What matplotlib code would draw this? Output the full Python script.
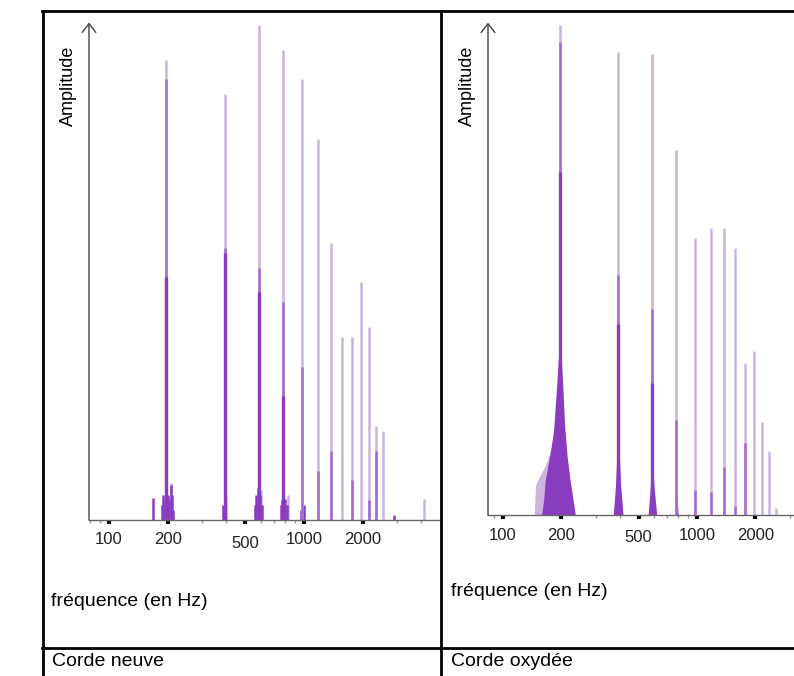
import numpy as np
import matplotlib.pyplot as plt
import matplotlib.transforms as mtransforms
from matplotlib.lines import Line2D
from matplotlib.ticker import LogLocator, NullFormatter

plt.rcParams['font.family'] = ['Liberation Sans', 'DejaVu Sans']

# harmoniques (Hz)
harmonics = [196, 392, 588, 784, 980, 1176, 1372, 1568, 1764, 1960, 2156, 2352, 2548]

# corde neuve : amplitude en % de la hauteur de l'axe
neuve_light = [93, 86, 100, 95, 89, 77, 56, 37, 37, 48, 39, 19, 18]
neuve_dark = [89, 55, 51, 44, 31, 10, 14, 0, 8, 0, 4, 14, 0]
neuve_core = [49, 54, 46, 25, 0, 0, 0, 0, 0, 0, 0, 0, 0]
neuve_lobe_f = [168, 186, 190, 193, 200, 204, 207, 210, 213, 385, 560, 570, 578, 598, 612,
                760, 775, 800, 820, 960, 1000, 2900]
neuve_lobe_a = [4.4, 3, 5, 4, 5, 4, 7, 5, 2, 3, 3, 5, 6.5, 5, 3,
                3, 4, 4.2, 3, 2, 3, 1]
neuve_halo_f = [209, 400, 605, 830, 4100]
neuve_halo_a = [7.5, 4.6, 6, 5, 4.2]

# corde oxydee
oxy_light = [100, 94.5, 94, 74.5, 56.5, 58.6, 58.6, 54.5, 31, 33.5, 19, 13, 1.4]
oxy_dark = [96.5, 49, 42, 19.4, 5.1, 4.7, 9.8, 1.8, 14.7, 0, 0, 0, 0]
oxy_core = [70, 39, 27, 0, 0, 0, 0, 0, 0, 0, 0, 0, 0]
oxy_env_f = [158, 162, 165, 174, 182, 188, 193, 196, 199, 203, 208, 214, 222, 230, 236,
             370, 380, 388, 392, 396, 404, 416,
             560, 575, 588, 600, 620,
             770, 787, 800]
oxy_env_a = [0, 3, 7, 12, 17, 25, 32, 36, 33, 27, 18, 12, 7, 3, 0,
             0, 6, 14, 20, 14, 6, 0,
             0, 6, 12, 6, 0,
             0, 4, 0]
oxy_halo_f = [145, 147, 155, 165, 172, 180, 186, 190]
oxy_halo_a = [0, 6, 8, 10, 12, 14, 20, 0]

tick_vals = [100, 200, 500, 1000, 2000]
tick_labels = ['100', '200', '500', '1000', '2000']

LIGHT = '#cbb4de'
MID = '#a468d2'
DARK = '#8a3cc0'

W, H = 794, 676
fig = plt.figure(figsize=(W / 100, H / 100), dpi=100)


def px_axes(x0, x1, ytop, ybot):
    return fig.add_axes([x0 / W, 1 - ybot / H, (x1 - x0) / W, (ybot - ytop) / H])


def draw_panel(ax, xlim, light, dark, core):
    ax.vlines(harmonics, 0, light, color=LIGHT, lw=1.8)
    ax.vlines(harmonics, 0, dark, color=MID, lw=1.8)
    ax.vlines(harmonics, 0, core, color=DARK, lw=2.4)
    ax.set_xscale('log')
    ax.set_xlim(*xlim)
    ax.set_ylim(0, 100)
    for s in ['top', 'right', 'left']:
        ax.spines[s].set_visible(False)
    ax.spines['bottom'].set_color('#666666')
    ax.spines['bottom'].set_linewidth(1.0)
    ax.set_yticks([])
    ax.set_xticks(tick_vals)
    ax.set_xticklabels(tick_labels)
    ax.xaxis.set_minor_locator(LogLocator(base=10, subs=np.arange(2, 10) * 1.0))
    ax.xaxis.set_minor_formatter(NullFormatter())
    ax.tick_params(axis='x', which='major', direction='out', length=3, width=3,
                   color='black', labelsize=12, labelcolor='#222222', pad=6)
    ax.tick_params(axis='x', which='minor', direction='out', length=2, width=1,
                   color='#999999')
    for lab in ax.get_xticklabels():
        if lab.get_text() == '500':
            lab.set_transform(lab.get_transform() +
                              mtransforms.ScaledTranslation(0, -3 / 100, fig.dpi_scale_trans))
    ax.annotate('', xy=(0, 1.005), xytext=(0, 0), xycoords='axes fraction',
                arrowprops=dict(arrowstyle='->,head_length=0.45,head_width=0.35',
                                color='#444444', lw=1.0, mutation_scale=14,
                                shrinkA=0, shrinkB=0),
                annotation_clip=False)
    for c in ax.collections:
        c.set_clip_on(False)


# corde neuve
ax1 = px_axes(89, 440, 25, 520)
ax1.vlines(neuve_halo_f, 0, neuve_halo_a, color=LIGHT, lw=1.8)
ax1.vlines(neuve_lobe_f, 0, neuve_lobe_a, color=DARK, lw=1.8)
draw_panel(ax1, (79, 4977), neuve_light, neuve_dark, neuve_core)

# corde oxydee
ax2 = px_axes(488, 794, 25, 515)
ax2.fill_between(oxy_halo_f, 0, oxy_halo_a, color=LIGHT, lw=0)
ax2.fill_between(oxy_env_f, 0, oxy_env_a, color=DARK, lw=0)
draw_panel(ax2, (83.7, 3162), oxy_light, oxy_dark, oxy_core)

# textes
fig.text(68 / W, 1 - 86 / H, 'Amplitude', rotation=90, ha='center', va='center', fontsize=13)
fig.text(467 / W, 1 - 86 / H, 'Amplitude', rotation=90, ha='center', va='center', fontsize=13)
fig.text(51 / W, 1 - 602 / H, 'fréquence (en Hz)', ha='left', va='center', fontsize=14)
fig.text(451 / W, 1 - 592 / H, 'fréquence (en Hz)', ha='left', va='center', fontsize=14)
fig.text(52 / W, 1 - 662 / H, 'Corde neuve', ha='left', va='center', fontsize=14)
fig.text(451 / W, 1 - 662 / H, 'Corde oxydée', ha='left', va='center', fontsize=14)

# cadre du tableau
def hline(y, x0, x1):
    fig.add_artist(Line2D([x0 / W, x1 / W], [1 - y / H, 1 - y / H], color='black', lw=2))

def vline(x, y0, y1):
    fig.add_artist(Line2D([x / W, x / W], [1 - y0 / H, 1 - y1 / H], color='black', lw=2))

hline(11, 42, 794)
hline(648, 42, 794)
vline(43, 11, 676)
vline(441, 11, 676)

fig.savefig('out.png', dpi=100)
